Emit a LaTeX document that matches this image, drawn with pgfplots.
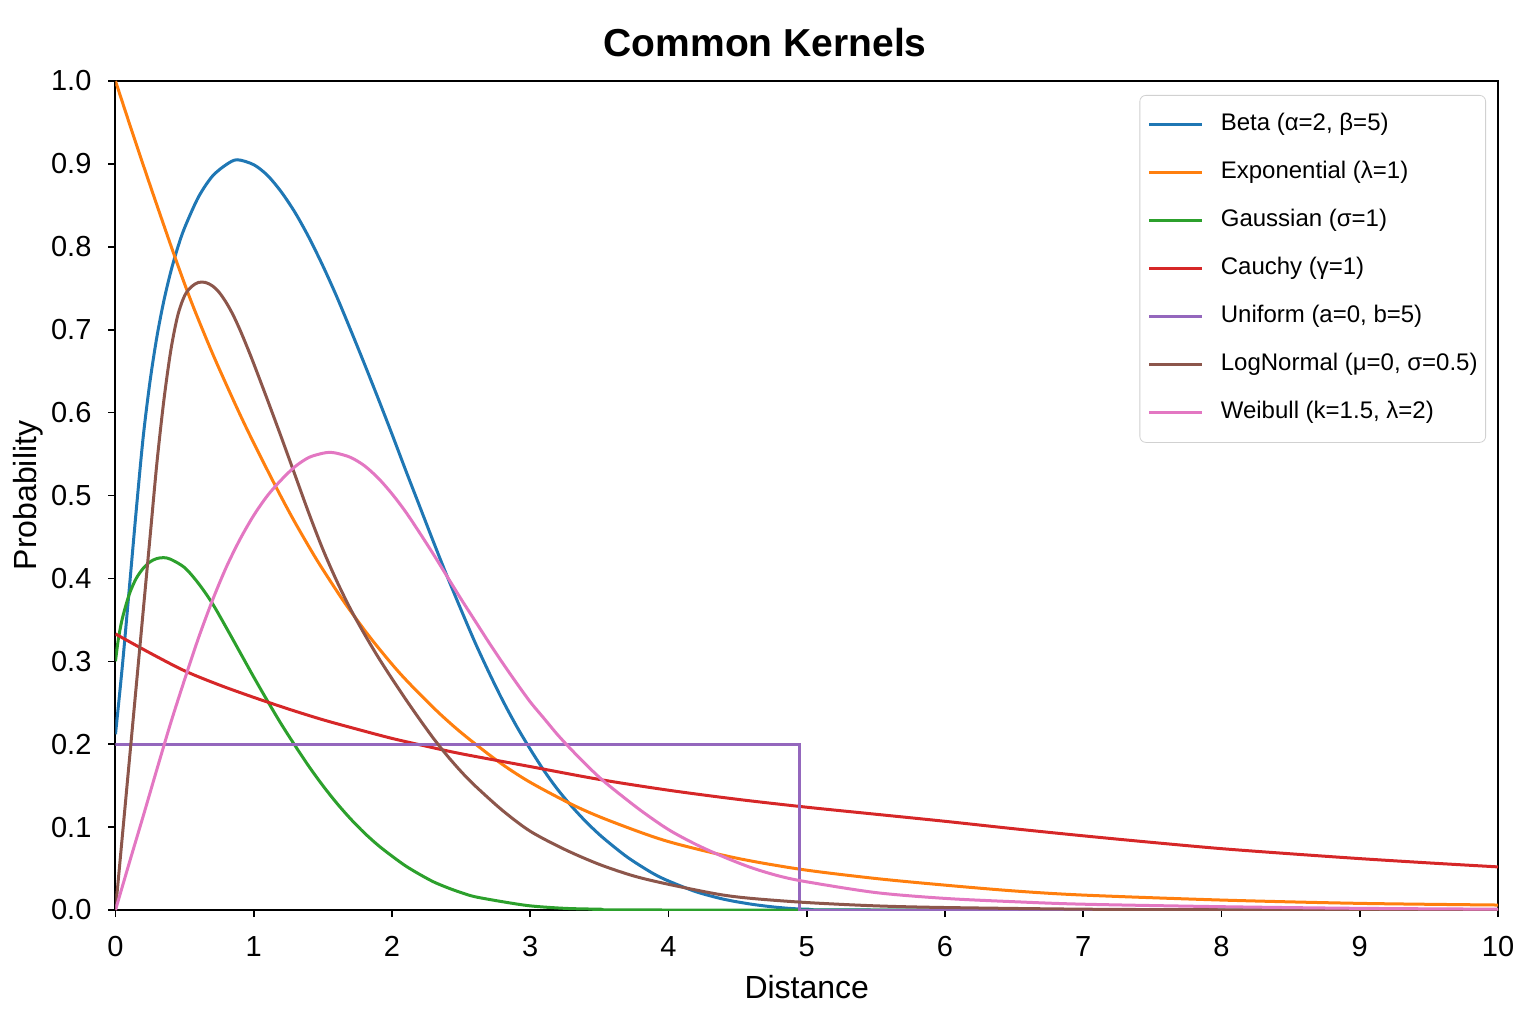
\documentclass[border=0pt]{standalone}
\usepackage{fontspec}
\setmainfont{Liberation Sans}
\usepackage{pgfplots}
\pgfplotsset{compat=1.18}
\definecolor{tabblue}{HTML}{1F77B4}
\definecolor{taborange}{HTML}{FF7F0E}
\definecolor{tabgreen}{HTML}{2CA02C}
\definecolor{tabred}{HTML}{D62728}
\definecolor{tabpurple}{HTML}{9467BD}
\definecolor{tabbrown}{HTML}{8C564B}
\definecolor{tabpink}{HTML}{E377C2}
\begin{document}
\begin{tikzpicture}
\begin{axis}[
  scale only axis, width=691.25pt, height=414.5pt,
  xmin=0, xmax=10, ymin=0, ymax=1,
  xtick={0,1,2,3,4,5,6,7,8,9,10},
  ytick={0,0.1,0.2,0.3,0.4,0.5,0.6,0.7,0.8,0.9,1},
  yticklabel style={/pgf/number format/fixed, /pgf/number format/fixed zerofill, /pgf/number format/precision=1, xshift=-5pt},
  /pgf/number format/assume math mode=true,
  tick align=outside, major tick length=3.5pt,
  tick style={line width=0.8pt, black},
  xtick pos=left, ytick pos=left,
  axis line style={line width=1pt},
  tick label style={font=\fontsize{14.5}{17}\selectfont},
  xticklabel style={yshift=-6pt},
  title={Common Kernels},
  title style={at={(rel axis cs:0.5,1)}, anchor=center, xshift=-20.75pt, yshift=13pt, font=\bfseries\fontsize{19.5}{23}\selectfont},
  xlabel={Distance},
  xlabel style={at={(rel axis cs:0.5,0)}, anchor=center, yshift=-38.5pt, font=\fontsize{16}{19}\selectfont},
  ylabel={Probability},
  every axis y label/.style={at={(rel axis cs:0,0.5)}, xshift=-43.75pt, rotate=90, anchor=center, font=\fontsize{16}{19}\selectfont},
  legend cell align=left,
  legend image code/.code={\draw[#1] (0pt,0pt) -- (26.5pt,0pt);},
  legend style={at={(1,1)}, anchor=north east, xshift=-6pt, yshift=-7pt,
    draw=black!18, rounded corners=3pt, fill=white,
    font=\fontsize{12}{14}\selectfont,
    inner xsep=4pt, inner ysep=8.75pt, row sep=12pt,
    nodes={inner sep=0pt, text height=9pt, text depth=3pt, anchor=west},
    /tikz/every odd column/.append style={column sep=8.5pt}},
  every axis plot/.append style={line width=1.5pt},
]
\coordinate (sw) at (rel axis cs:0,0);

\addplot[tabblue, smooth] coordinates {
(0,0.212)(0.05,0.295)(0.1,0.388)(0.15,0.482)(0.2,0.570)(0.25,0.638)(0.3,0.692)(0.35,0.735)(0.4,0.770)(0.45,0.799)(0.5,0.823)(0.6,0.860)(0.7,0.885)(0.8,0.899)(0.88,0.905)(1.0,0.899)(1.1,0.886)(1.2,0.866)(1.3,0.841)(1.4,0.811)(1.5,0.777)(1.6,0.740)(1.7,0.700)(1.8,0.659)(1.9,0.617)(2.0,0.574)(2.1,0.530)(2.2,0.487)(2.3,0.444)(2.4,0.402)(2.5,0.362)(2.6,0.323)(2.7,0.287)(2.8,0.253)(2.9,0.222)(3.0,0.194)(3.1,0.168)(3.2,0.145)(3.3,0.125)(3.4,0.107)(3.5,0.091)(3.6,0.077)(3.7,0.064)(3.8,0.053)(3.9,0.043)(4.0,0.035)(4.2,0.022)(4.4,0.013)(4.6,0.007)(4.8,0.003)(5.0,0.001)(5.5,0)(10,0)
};
\addlegendentry{Beta (α=2, β=5)}

\addplot[taborange, smooth] coordinates {
(0,1.0)(0.1,0.949)(0.2,0.899)(0.3,0.850)(0.427,0.789)(0.55,0.733)(0.7,0.672)(0.85,0.616)(0.951,0.580)(1.07,0.540)(1.193,0.500)(1.3,0.467)(1.45,0.424)(1.6,0.385)(1.69,0.363)(1.85,0.327)(2.06,0.285)(2.3,0.244)(2.5,0.214)(2.77,0.179)(3.0,0.154)(3.33,0.125)(3.6,0.106)(3.99,0.083)(4.48,0.063)(4.96,0.049)(5.5,0.038)(6,0.030)(6.5,0.023)(7,0.018)(8,0.012)(9,0.008)(10,0.006)
};
\addlegendentry{Exponential (λ=1)}

\addplot[tabgreen, smooth] coordinates {
(0,0.30)(0.02,0.326)(0.05,0.352)(0.1,0.381)(0.15,0.400)(0.2,0.412)(0.25,0.420)(0.3,0.424)(0.35,0.425)(0.4,0.423)(0.5,0.413)(0.6,0.394)(0.7,0.370)(0.8,0.341)(0.9,0.311)(1.0,0.281)(1.1,0.252)(1.2,0.224)(1.3,0.198)(1.4,0.173)(1.5,0.150)(1.6,0.129)(1.7,0.110)(1.8,0.093)(1.9,0.078)(2.0,0.065)(2.1,0.053)(2.2,0.043)(2.3,0.034)(2.4,0.027)(2.5,0.021)(2.6,0.016)(2.8,0.010)(3.0,0.005)(3.25,0.002)(3.5,0.001)(4,0)(10,0)
};
\addlegendentry{Gaussian (σ=1)}

\addplot[tabred, smooth] coordinates {
(0,0.333)(0.25,0.310)(0.5,0.2885)(0.75,0.2715)(1.0,0.2565)(1.25,0.2425)(1.5,0.2295)(1.75,0.2180)(2.0,0.2070)(2.25,0.1975)(2.5,0.1885)(3.0,0.1730)(3.5,0.1575)(4.0,0.1445)(4.5,0.1335)(5.0,0.1240)(5.5,0.1155)(6,0.1070)(6.5,0.0980)(7,0.0895)(7.5,0.0815)(8,0.0740)(8.5,0.0678)(9,0.0620)(9.5,0.0568)(10,0.0520)
};
\addlegendentry{Cauchy (γ=1)}

\addplot[tabpurple] coordinates {
(0,0.2)(4.95,0.2)(4.95,0)(10,0)
};
\addlegendentry{Uniform (a=0, b=5)}

\addplot[tabbrown, smooth] coordinates {
(0,0)(0.05,0.09)(0.1,0.18)(0.15,0.27)(0.2,0.36)(0.25,0.45)(0.3,0.54)(0.35,0.615)(0.4,0.675)(0.45,0.717)(0.5,0.741)(0.55,0.752)(0.6,0.757)(0.65,0.757)(0.7,0.753)(0.75,0.745)(0.8,0.733)(0.85,0.718)(0.9,0.700)(0.95,0.680)(1.0,0.659)(1.1,0.615)(1.2,0.570)(1.3,0.524)(1.4,0.478)(1.5,0.435)(1.6,0.397)(1.7,0.363)(1.8,0.333)(1.9,0.305)(2.0,0.279)(2.1,0.254)(2.2,0.230)(2.3,0.207)(2.4,0.186)(2.5,0.167)(2.6,0.150)(2.8,0.120)(3.0,0.095)(3.25,0.073)(3.5,0.055)(3.75,0.041)(4.0,0.031)(4.36,0.019)(4.6,0.014)(5.0,0.009)(5.5,0.005)(6,0.003)(7,0.001)(8,0.0003)(10,0)
};
\addlegendentry{LogNormal (μ=0, σ=0.5)}

\addplot[tabpink, smooth] coordinates {
(0,0)(0.1,0.057)(0.2,0.113)(0.3,0.170)(0.4,0.226)(0.5,0.278)(0.6,0.328)(0.7,0.373)(0.8,0.413)(0.9,0.447)(1.0,0.476)(1.1,0.500)(1.2,0.519)(1.3,0.535)(1.4,0.546)(1.5,0.551)(1.55,0.552)(1.6,0.551)(1.7,0.546)(1.8,0.536)(1.9,0.521)(2.0,0.502)(2.1,0.480)(2.2,0.455)(2.3,0.429)(2.4,0.402)(2.5,0.375)(2.6,0.349)(2.7,0.323)(2.8,0.298)(2.9,0.274)(3.0,0.251)(3.1,0.231)(3.2,0.211)(3.3,0.193)(3.4,0.176)(3.5,0.160)(3.6,0.146)(3.8,0.120)(4.0,0.097)(4.2,0.079)(4.4,0.064)(4.6,0.051)(4.8,0.041)(5.0,0.034)(5.5,0.021)(6,0.014)(6.5,0.010)(7,0.007)(8,0.004)(9,0.002)(10,0.001)
};
\addlegendentry{Weibull (k=1.5, λ=2)}
\end{axis}
\pgfresetboundingbox
\path (sw) ++(-57.75pt,-57pt) rectangle ++(768pt,512pt);
\end{tikzpicture}
\end{document}
